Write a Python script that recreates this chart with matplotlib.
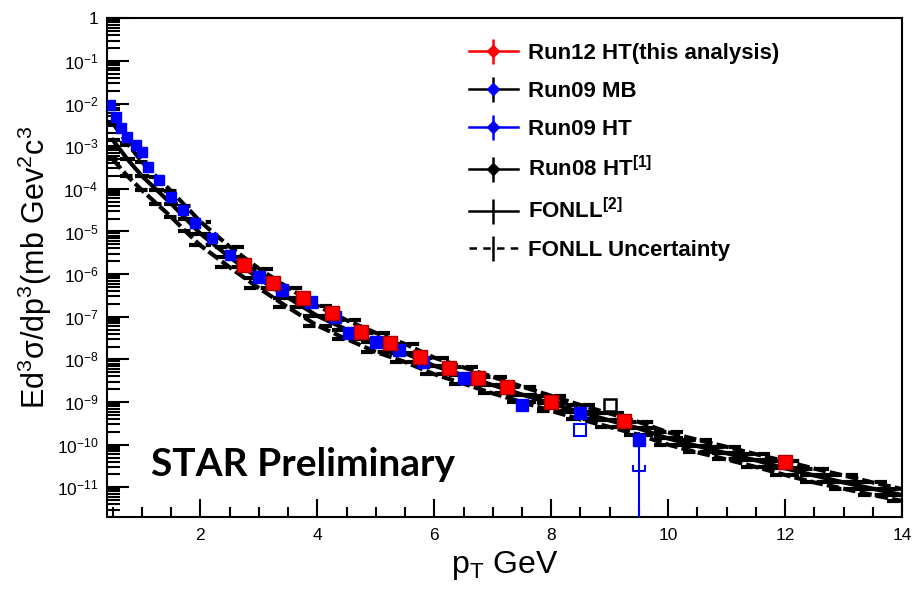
import numpy as np
import matplotlib
matplotlib.use('Agg')
import matplotlib.pyplot as plt
from matplotlib.lines import Line2D
from matplotlib.ticker import LogLocator, FuncFormatter, MultipleLocator, NullFormatter

plt.rcParams['font.family'] = ['Liberation Sans', 'DejaVu Sans']
plt.rcParams['mathtext.fontset'] = 'custom'
plt.rcParams['mathtext.rm'] = 'Liberation Sans'
plt.rcParams['mathtext.it'] = 'Liberation Sans:italic'
plt.rcParams['mathtext.bf'] = 'Liberation Sans:bold'

# Run12 HT (this analysis)
run12_pt = [2.75, 3.25, 3.75, 4.25, 4.75, 5.25, 5.75, 6.25, 6.75, 7.25, 8.0, 9.25, 12.0]
run12_val = [1.66e-6, 6.2e-7, 2.75e-7, 1.23e-7, 4.5e-8, 2.45e-8, 1.15e-8, 6.3e-9,
             3.7e-9, 2.3e-9, 1.0e-9, 3.5e-10, 4.0e-11]

# Run09 MB
run09mb_pt = [0.45, 0.55, 0.65, 0.75, 0.9, 1.0, 1.1, 1.3, 1.5, 1.7, 1.9, 2.2, 2.5]
run09mb_val = [9.1e-3, 4.8e-3, 2.6e-3, 1.6e-3, 1.07e-3, 7.2e-4, 3.2e-4, 1.6e-4,
               6.4e-5, 3.2e-5, 1.6e-5, 7.1e-6, 2.8e-6]

# Run09 HT
run09ht_pt = [3.0, 3.4, 3.9, 4.3, 4.55, 5.0, 5.4, 5.8, 6.5, 7.5, 8.5, 9.5]
run09ht_val = [8.5e-7, 4.3e-7, 2.2e-7, 1.0e-7, 4.2e-8, 2.6e-8, 1.7e-8, 8.7e-9,
               3.7e-9, 8.7e-10, 5.6e-10, 1.3e-10]
run09ht_hi = [8.5e-7, 4.3e-7, 2.2e-7, 1.0e-7, 4.2e-8, 2.6e-8, 1.7e-8, 8.7e-9,
              3.7e-9, 8.7e-10, 5.6e-10, 2.0e-10]
run09ht_lo = [8.5e-7, 4.3e-7, 2.2e-7, 1.0e-7, 4.2e-8, 2.6e-8, 1.7e-8, 8.7e-9,
              3.7e-9, 8.7e-10, 5.6e-10, 1e-13]
run09_open_pt = [8.5]
run09_open_val = [2.2e-10]
run09_sys_pt = [9.5]
run09_sys_lo = [2.4e-11]

# Run08 HT
run08_pt = [9.0]
run08_val = [8.7e-10]

# FONLL central and uncertainty band
fonll_pt = [0.5, 0.75, 1.0, 1.25, 1.5, 1.75, 2.0, 2.5, 3.0, 3.5, 4.0, 4.5, 5.0, 5.5,
            6.0, 6.5, 7.0, 7.5, 8.0, 8.5, 9.0, 9.5, 10.0, 10.5, 11.0, 11.5, 12.0,
            12.5, 13.0, 13.5, 14.0]
fonll_c = [1.4e-3, 5.0e-4, 2.0e-4, 9.5e-5, 4.5e-5, 2.0e-5, 8.9e-6, 2.5e-6, 7.9e-7,
           2.8e-7, 1.05e-7, 5.0e-8, 2.5e-8, 1.4e-8, 7.1e-9, 4.2e-9, 2.5e-9, 1.5e-9,
           9.3e-10, 5.8e-10, 3.7e-10, 2.4e-10, 1.4e-10, 9.3e-11, 6.3e-11, 4.3e-11,
           2.8e-11, 1.9e-11, 1.3e-11, 9.3e-12, 6.6e-12]
fonll_hi = [3.5e-3, 1.17e-3, 4.3e-4, 1.9e-4, 8.9e-5, 3.9e-5, 1.7e-5, 4.4e-6, 1.35e-6,
            4.8e-7, 1.8e-7, 8.3e-8, 4.2e-8, 2.3e-8, 1.1e-8, 6.5e-9, 3.9e-9, 2.3e-9,
            1.4e-9, 8.5e-10, 5.4e-10, 3.4e-10, 1.95e-10, 1.3e-10, 8.9e-11, 6.0e-11,
            4.1e-11, 2.75e-11, 1.9e-11, 1.3e-11, 9.1e-12]
fonll_lo = [5.0e-4, 2.0e-4, 9.3e-5, 4.5e-5, 2.2e-5, 1.0e-5, 4.7e-6, 1.45e-6, 4.7e-7,
            1.65e-7, 6.2e-8, 3.0e-8, 1.5e-8, 8.7e-9, 4.5e-9, 2.7e-9, 1.6e-9, 1.0e-9,
            6.2e-10, 3.9e-10, 2.6e-10, 1.7e-10, 1.0e-10, 6.6e-11, 4.5e-11, 3.0e-11,
            1.95e-11, 1.3e-11, 9.3e-12, 6.6e-12, 4.8e-12]

labels = ['Run12 HT(this analysis)', 'Run09 MB', 'Run09 HT',
          r'Run08 HT$^{\mathbf{[1]}}$', r'FONLL$^{\mathbf{[2]}}$', 'FONLL Uncertainty']

fig = plt.figure(figsize=(9.13, 5.89), dpi=100)
ax = fig.add_axes([0.117, 0.122, 0.871, 0.847])

# FONLL: binned segments plus connecting lines, makes a dark band
pt = np.array(fonll_pt)
half = np.gradient(pt) / 2
for vals, ls in [(fonll_hi, (0, (3, 1.0))), (fonll_lo, (0, (3, 1.0))), (fonll_c, '-')]:
    ax.hlines(vals, pt - half, pt + half, colors='black', linewidth=3.0, linestyles=ls)
    ax.plot(pt, vals, color='black', lw=3.0, ls=ls)

# data
ax.plot(run09mb_pt, run09mb_val, 's', color='blue', markersize=7.5, zorder=3)
ax.errorbar(run09ht_pt, run09ht_val,
            yerr=[np.array(run09ht_val) - np.array(run09ht_lo),
                  np.array(run09ht_hi) - np.array(run09ht_val)],
            fmt='s', color='blue', markersize=9, elinewidth=1.5, capsize=0, zorder=3)
ax.plot(run09_open_pt, run09_open_val, 's', mfc='white', mec='blue', mew=1.5,
        markersize=8, zorder=3)
for x, y in zip(run09_sys_pt, run09_sys_lo):
    ax.plot([x - 0.1, x - 0.1, x + 0.1, x + 0.1], [y * 1.35, y, y, y * 1.35],
            color='blue', lw=1.5, zorder=3)
ax.plot(run08_pt, run08_val, 's', mfc='white', mec='black', mew=1.8,
        markersize=8, zorder=3)
ax.plot(run12_pt, run12_val, 's', color='red', mec='#b00000', markersize=9.5, zorder=4)

ax.set_yscale('log')
ax.set_xlim(0.4, 14)
ax.set_ylim(2e-12, 1)

ax.yaxis.set_major_locator(LogLocator(base=10, numticks=20))
ax.yaxis.set_minor_locator(LogLocator(base=10, subs=np.arange(2, 10), numticks=20))
ax.yaxis.set_minor_formatter(NullFormatter())
ax.yaxis.set_major_formatter(FuncFormatter(
    lambda v, p: '1' if abs(np.log10(v)) < 1e-6 else r'$10^{%d}$' % round(np.log10(v))))
ax.xaxis.set_major_locator(MultipleLocator(2))
ax.xaxis.set_minor_locator(MultipleLocator(0.5))

ax.tick_params(axis='y', which='major', direction='in', length=16, width=1.5, labelsize=12.5, pad=6)
ax.tick_params(axis='y', which='minor', direction='in', length=9, width=1.5)
ax.tick_params(axis='x', which='major', direction='in', length=13, width=1.5, labelsize=12.5, pad=8)
ax.tick_params(axis='x', which='minor', direction='in', length=7, width=1.5)
for s in ax.spines.values():
    s.set_linewidth(1.5)

ax.set_xlabel(r'p$_{\mathregular{T}}$ GeV', fontsize=23, labelpad=4)
ax.set_ylabel('Ed$^3$σ/dp$^3$(mb Gev$^2$c$^3$', fontsize=22, labelpad=2)

ax.text(0.055, 0.082, 'STAR Preliminary', transform=ax.transAxes, fontsize=28,
        fontweight='bold', family='Lato')

def mk(lc, mc, marker='D', ls='-'):
    hl = Line2D([], [], color=lc, lw=1.8, ls=ls)
    vl = Line2D([], [], color=lc, marker='|', markersize=18, mew=1.8, ls='none')
    if marker is None:
        return (hl, vl)
    return (hl, vl, Line2D([], [], color=mc, marker=marker, markersize=6, ls='none'))

handles = [mk('red', 'red'), mk('black', 'blue'), mk('blue', 'blue'),
           mk('black', 'black'), mk('black', None, None), mk('black', None, None, (0, (3, 2.5)))]
leg = ax.legend(handles, labels, loc='upper left', bbox_to_anchor=(0.43, 0.99),
                frameon=False, prop={'size': 16, 'weight': 'bold'},
                handlelength=2.2, handletextpad=0.45, labelspacing=0.75)

fig.savefig('out.png', dpi=100)
